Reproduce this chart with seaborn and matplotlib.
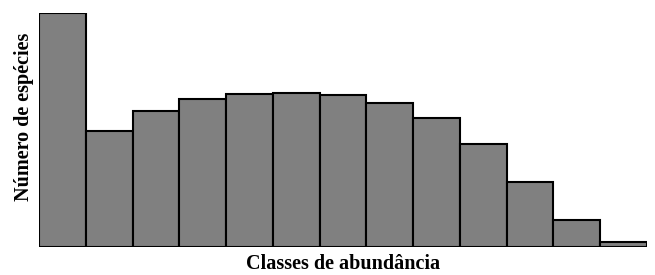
import pandas as pd
import matplotlib.pyplot as plt
import seaborn as sns

classes = [str(i) for i in range(1, 14)]
especies = [234, 116, 136, 148, 153, 154, 152, 144, 129, 103, 65, 27, 5]

df = pd.DataFrame({"classe": classes, "especies": especies})

sns.set_theme(style="white")
plt.rcParams['font.family'] = ['Liberation Serif', 'DejaVu Serif']

fig = plt.figure(figsize=(6.55, 2.75), dpi=100)
ax = fig.add_axes([39/655, 28/275, 608/655, (247-13)/275])

sns.barplot(x="classe", y="especies", data=df, color="#808080",
            saturation=1, width=1, edgecolor="black", linewidth=1.5, ax=ax)

ax.set_xlim(-0.5, 12.5)
ax.set_ylim(0, 234)
ax.set_xticks([])
ax.set_yticks([])
for s in ax.spines.values():
    s.set_visible(False)

ax.set_xlabel("Classes de abundância", fontsize=14.5, fontweight="bold", color="black")
ax.set_ylabel("Número de espécies", fontsize=14.5, fontweight="bold", color="black")
ax.xaxis.set_label_coords(0.5, -0.03)
ax.yaxis.set_label_coords(-0.009, 0.556)

plt.savefig("out.png", dpi=100)
